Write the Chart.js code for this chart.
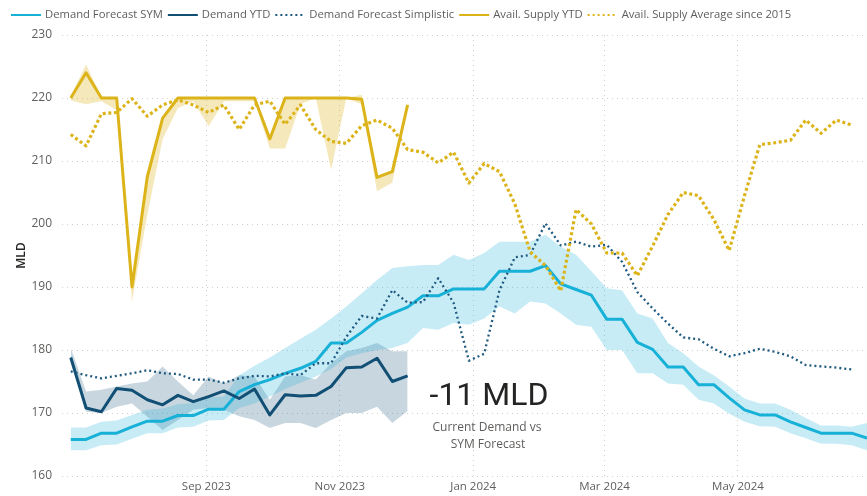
<!DOCTYPE html>
<html><head><meta charset="utf-8">
<script src="https://cdn.jsdelivr.net/npm/chart.js@4.4.1/dist/chart.umd.min.js"></script>
<style>html,body{margin:0;padding:0;background:#fff;}#wrap{width:867px;height:496px;}</style>
</head><body><div id="wrap"><canvas id="c" width="867" height="496"></canvas></div>
<script>
// x positions: days since 1 Jul 2023, one point per week
const tickDays = [62, 123, 184, 244, 305];
const tickLabels = ['Sep 2023', 'Nov 2023', 'Jan 2024', 'Mar 2024', 'May 2024'];
const seriesNames = ['Demand Forecast SYM', 'Demand YTD', 'Demand Forecast Simplistic', 'Avail. Supply YTD', 'Avail. Supply Average since 2015'];

const symForecast = [165.8,165.8,166.8,166.8,167.8,168.7,168.7,169.6,169.6,170.6,
 170.6,173.4,174.5,175.3,176.3,177.1,178.2,181.1,181.1,182.8,
 184.7,185.8,186.8,188.6,188.6,189.7,189.7,189.7,192.5,192.5,
 192.5,193.4,190.5,189.6,188.7,184.9,184.9,181.2,180.1,177.3,
 177.3,174.5,174.5,172.4,170.5,169.7,169.7,168.6,167.7,166.8,
 166.8,166.8,166.0];
const symUpper = [167.7,167.7,168.6,168.8,169.7,170.5,170.7,171.4,171.6,172.5,
 172.6,176.0,177.5,178.8,180.3,181.8,183.2,185.0,186.9,189.0,
 191.1,193.0,193.3,193.5,193.5,195.1,194.3,195.4,197.2,197.2,
 197.2,198.3,196.4,195.1,192.5,189.8,189.5,185.8,185.0,181.1,
 179.5,177.4,176.0,174.2,172.3,171.5,171.5,170.5,169.2,168.0,
 168.0,167.8,168.4];
const symLower = [164.1,164.1,164.9,165.0,165.9,166.8,166.8,167.7,167.8,168.8,
 168.9,170.8,171.5,172.6,173.8,174.8,175.8,177.0,178.8,179.5,
 180.0,180.3,181.1,183.5,183.2,184.3,184.0,185.0,186.9,185.8,
 187.7,187.4,185.8,184.0,183.7,180.0,180.0,176.3,176.3,174.7,
 174.5,172.1,171.5,169.9,168.6,167.9,167.8,166.8,166.0,165.1,
 165.1,164.9,164.1];

const demandYTD = [178.8,170.8,170.2,173.9,173.6,172.1,171.3,172.8,171.8,172.6,
 173.5,172.3,173.8,169.7,172.9,172.7,172.8,174.2,177.2,177.3,
 178.7,175.0,175.9];
const ytdUpper = [180.3,173.4,173.7,174.2,174.7,175.0,177.4,175.0,172.8,175.8,
 174.7,176.0,175.8,172.1,175.8,176.0,175.3,177.9,179.8,180.3,
 181.1,179.8,179.8];
const ytdLower = [178.5,170.2,170.0,171.0,171.5,169.4,167.3,168.9,170.5,170.8,
 170.5,169.5,168.9,167.6,168.4,168.4,167.6,168.9,170.0,170.0,
 171.0,168.4,170.3];

const simplistic = [176.6,176.0,175.5,175.9,176.3,176.8,176.3,176.2,175.3,175.3,
 174.8,175.5,175.9,175.8,176.3,176.0,177.9,177.9,182.1,185.4,
 185.0,189.5,187.5,187.6,191.4,187.5,178.3,179.4,189.5,194.7,
 195.1,200.1,196.6,197.2,196.4,196.7,194.0,189.2,186.6,184.2,
 182.0,181.7,180.2,179.0,179.5,180.2,179.7,179.0,177.6,177.4,
 177.2,176.9];

const supplyYTD = [220.0,224.0,220.0,220.0,190.0,207.5,216.8,220.0,220.0,220.0,
 220.0,220.0,220.0,213.5,220.0,220.0,220.0,220.0,220.0,219.8,
 207.4,208.3,218.9];
const supplyUpper = [220.3,225.3,220.2,220.0,190.5,207.5,216.8,220.0,220.0,220.0,
 220.0,220.0,220.0,213.6,220.0,220.0,220.0,220.0,220.0,220.5,
 207.6,208.5,219.0];
const supplyLower = [219.6,219.0,219.5,218.1,187.7,201.5,213.5,218.4,219.5,215.5,
 219.5,219.5,219.5,212.0,212.0,219.0,220.0,208.6,220.0,219.0,
 205.2,206.6,218.5];

const supplyAvg = [214.2,212.4,217.5,217.7,219.9,217.1,218.9,219.7,218.9,217.7,
 218.9,215.0,218.9,219.5,215.8,218.9,215.0,213.1,212.8,215.6,
 216.5,215.2,211.8,211.4,209.7,211.4,206.5,209.6,208.3,203.2,
 195.6,193.4,189.4,202.3,200.0,195.4,195.4,191.8,196.5,201.5,
 205.0,204.5,200.7,195.8,204.5,212.6,212.9,213.3,216.5,214.4,
 216.5,215.7];

const C = {
  sym: '#17b1d8', ytd: '#124f74', simp: '#1e5a80', gold: '#dcb41a',
  symBand: 'rgba(23,177,216,0.24)', ytdBand: 'rgba(18,79,116,0.23)', goldBand: 'rgba(221,180,26,0.30)',
  text: '#605E5C', dark: '#252423', grid: '#cfcfcf'
};
const pts = arr => arr.map((v, i) => ({x: i * 7, y: v}));
const none = 'rgba(0,0,0,0)';
const line = (label, data, color, width, dash, order) => ({
  label, data: pts(data), borderColor: color, borderWidth: width, borderDash: dash || [],
  pointRadius: 0, fill: false, tension: 0, order, borderJoinStyle: 'round', borderCapStyle: 'butt'
});
const band = (data, color, fill, order) => ({
  label: '', data: pts(data), borderColor: none, borderWidth: 0, backgroundColor: color,
  pointRadius: 0, fill, tension: 0, order
});

const datasets = [
  line(seriesNames[4], supplyAvg, C.gold, 3.2, [3, 2.6], 0),
  line(seriesNames[3], supplyYTD, C.gold, 3, null, 1),
  line(seriesNames[2], simplistic, C.simp, 2.3, [2, 3], 2),
  line(seriesNames[1], demandYTD, C.ytd, 3, null, 3),
  line(seriesNames[0], symForecast, C.sym, 3, null, 4),
  band(symUpper, C.symBand, '+1', 5),
  band(symLower, none, false, 6),
  band(ytdUpper, C.ytdBand, '+1', 7),
  band(ytdLower, none, false, 8),
  band(supplyUpper, C.goldBand, '+1', 9),
  band(supplyLower, none, false, 10)
];

const legendItems = [
  {text: seriesNames[0], color: C.sym, dash: null, w: 2},
  {text: seriesNames[1], color: C.ytd, dash: null, w: 2},
  {text: seriesNames[2], color: C.simp, dash: [2, 3], w: 2},
  {text: seriesNames[3], color: C.gold, dash: null, w: 2},
  {text: seriesNames[4], color: C.gold, dash: [2, 3], w: 2}
];

const overlay = {
  id: 'overlay',
  afterDraw(chart) {
    const ctx = chart.ctx;
    ctx.save();
    let fs = 12;
    ctx.font = fs + 'px "Open Sans"';
    fs = fs * 118 / ctx.measureText(seriesNames[0]).width;
    ctx.font = fs.toFixed(2) + 'px "Open Sans"';
    let x = 11; const y = 15;
    ctx.textBaseline = 'middle'; ctx.textAlign = 'left';
    legendItems.forEach(it => {
      ctx.beginPath();
      ctx.setLineDash(it.dash || []);
      ctx.lineWidth = it.w; ctx.strokeStyle = it.color;
      ctx.moveTo(x, y); ctx.lineTo(x + 30, y); ctx.stroke();
      ctx.setLineDash([]);
      ctx.fillStyle = C.text;
      ctx.fillText(it.text, x + 34, y);
      x += 34 + ctx.measureText(it.text).width + 5;
    });
    // KPI annotation
    ctx.textAlign = 'center'; ctx.textBaseline = 'alphabetic';
    ctx.fillStyle = C.dark;
    ctx.font = '32px Roboto';
    ctx.fillText('-11 MLD', 489, 405);
    ctx.fillStyle = C.text;
    ctx.font = '12px "Open Sans"';
    ctx.fillText('Current Demand vs', 487, 431);
    ctx.fillText('SYM Forecast', 488, 448);
    ctx.restore();
  }
};

new Chart(document.getElementById('c'), {
  type: 'line',
  data: {datasets},
  options: {
    responsive: false, animation: false, devicePixelRatio: 1,
    layout: {padding: {top: 35, left: 0, right: 0, bottom: 0}},
    plugins: {legend: {display: false}, tooltip: {enabled: false}, filler: {drawTime: 'beforeDatasetsDraw'}},
    scales: {
      x: {
        type: 'linear', min: -4, max: 364,
        afterBuildTicks: s => { s.ticks = tickDays.map(v => ({value: v})); },
        afterFit: s => { s.height = 20; },
        ticks: {autoSkip: false, maxRotation: 0, padding: 4, color: C.text, font: {family: 'Open Sans', size: 11.5},
          callback: v => { const i = tickDays.indexOf(v); return i >= 0 ? tickLabels[i] : ''; }},
        grid: {color: C.grid, drawTicks: false, lineWidth: 1},
        border: {display: false, dash: [1, 4]}
      },
      y: {
        min: 160, max: 230,
        afterFit: s => { s.width = 62; },
        ticks: {stepSize: 10, padding: 10, color: C.text, font: {family: 'Open Sans', size: 12}},
        grid: {color: C.grid, drawTicks: false, lineWidth: 1},
        border: {display: false, dash: [1, 4]},
        title: {display: true, text: 'MLD', color: C.dark, padding: {top: 14, bottom: 0}, font: {family: 'Open Sans', size: 12, weight: '600'}}
      }
    }
  },
  plugins: [overlay]
});
</script></body></html>
